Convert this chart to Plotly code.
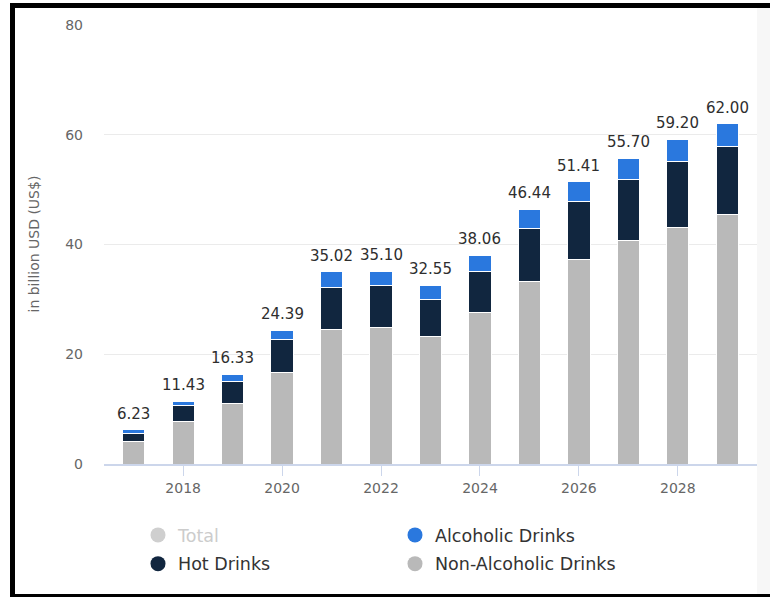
import plotly.graph_objects as go

# Revenue by segment, in billion USD
years = [2017, 2018, 2019, 2020, 2021, 2022, 2023, 2024, 2025, 2026, 2027, 2028, 2029]
non_alcoholic = [4.10, 7.70, 11.00, 16.60, 24.50, 24.90, 23.30, 27.60, 33.20, 37.30, 40.70, 43.10, 45.40]
hot_drinks = [1.50, 2.90, 4.00, 6.10, 7.70, 7.65, 6.70, 7.40, 9.80, 10.50, 11.20, 12.00, 12.50]
alcoholic = [0.63, 0.83, 1.33, 1.69, 2.82, 2.55, 2.55, 3.06, 3.44, 3.61, 3.80, 4.10, 4.10]

x_ticks = [2018, 2020, 2022, 2024, 2026, 2028]
y_ticks = [0, 20, 40, 60, 80]

COL_NON = "#b9b9b9"
COL_HOT = "#11263f"
COL_ALC = "#2a78de"
COL_TOTAL = "#cfcfcf"

W, H = 770, 597
L, R, T, B = 104, 13, 25, 133
PW, PH = W - L - R, H - T - B


def px_x(p):
    return (p - L) / PW


def px_y(p):
    return (H - B - p) / PH


fig = go.Figure()

# stacked bars: bottom to top
for name, vals, col in [
    ("Non-Alcoholic Drinks", non_alcoholic, COL_NON),
    ("Hot Drinks", hot_drinks, COL_HOT),
    ("Alcoholic Drinks", alcoholic, COL_ALC),
]:
    fig.add_trace(go.Bar(
        x=years, y=vals, name=name, showlegend=False,
        marker=dict(color=col, line=dict(color="white", width=1)),
        hoverinfo="x+y+name",
    ))

# legend entries drawn as round markers, two columns
legend_items = [
    ("<span style='color:#cccccc'>Total</span>", COL_TOTAL, "legend", "g1"),
    ("Hot Drinks", COL_HOT, "legend", "g2"),
    ("Alcoholic Drinks", COL_ALC, "legend2", "g3"),
    ("Non-Alcoholic Drinks", COL_NON, "legend2", "g4"),
]
for name, col, lg, grp in legend_items:
    fig.add_trace(go.Scatter(
        x=[None], y=[None], mode="markers", name=name,
        marker=dict(color=col, size=15, symbol="circle"),
        legend=lg, legendgroup=grp, showlegend=True,
    ))

totals = [round(a + b + c, 2) for a, b, c in zip(non_alcoholic, hot_drinks, alcoholic)]
annotations = [
    dict(x=xv, y=tv, xref="x", yref="y", text=f"{tv:.2f}", showarrow=False,
         yanchor="bottom", yshift=5,
         font=dict(family="DejaVu Sans", size=15, color="#2e2e2e"))
    for xv, tv in zip(years, totals)
]
annotations.append(dict(
    x=px_x(33), y=0.5, xref="paper", yref="paper", text="in billion USD (US$)",
    textangle=-90, showarrow=False, xanchor="center", yanchor="middle",
    font=dict(family="DejaVu Sans", size=14, color="#666666"),
))

# frame around the image
shapes = [
    dict(type="rect", xref="paper", yref="paper", x0=px_x(757), x1=px_x(770),
         y0=px_y(594), y1=px_y(8), fillcolor="#f7f7f7", line=dict(width=0), layer="below"),
    dict(type="rect", xref="paper", yref="paper", x0=px_x(10), x1=px_x(770),
         y0=px_y(8), y1=px_y(3), fillcolor="black", line=dict(width=0)),
    dict(type="rect", xref="paper", yref="paper", x0=px_x(10), x1=px_x(15),
         y0=px_y(597), y1=px_y(3), fillcolor="black", line=dict(width=0)),
    dict(type="rect", xref="paper", yref="paper", x0=px_x(10), x1=px_x(770),
         y0=px_y(597), y1=px_y(594), fillcolor="black", line=dict(width=0)),
]

legend_font = dict(family="DejaVu Sans", size=17.5, color="#333333")
fig.update_layout(
    width=W, height=H,
    margin=dict(l=L, r=R, t=T, b=B),
    paper_bgcolor="white", plot_bgcolor="white",
    barmode="stack", bargap=0.55,
    font=dict(family="DejaVu Sans"),
    xaxis=dict(
        range=[2016.4, 2029.6], tickvals=x_ticks, ticktext=[str(v) for v in x_ticks],
        ticks="outside", ticklen=10, tickcolor="#ccd6eb", tickwidth=1,
        showline=True, linecolor="#ccd6eb", linewidth=2, showgrid=False, zeroline=False,
        tickfont=dict(family="DejaVu Sans", size=14, color="#666666"),
    ),
    yaxis=dict(
        range=[0, 80], tickvals=y_ticks, showgrid=True, gridcolor="#ebebeb", gridwidth=1,
        zeroline=False, showline=False, ticks="", ticklabelstandoff=20,
        tickfont=dict(family="DejaVu Sans", size=14, color="#666666"),
    ),
    legend=dict(
        orientation="v", x=px_x(138), y=px_y(517), xanchor="left", yanchor="top",
        bgcolor="rgba(0,0,0,0)", font=legend_font, tracegroupgap=3,
    ),
    legend2=dict(
        orientation="v", x=px_x(395), y=px_y(517), xanchor="left", yanchor="top",
        bgcolor="rgba(0,0,0,0)", font=legend_font, tracegroupgap=3,
    ),
    annotations=annotations,
    shapes=shapes,
)

fig.write_html("out.html")
